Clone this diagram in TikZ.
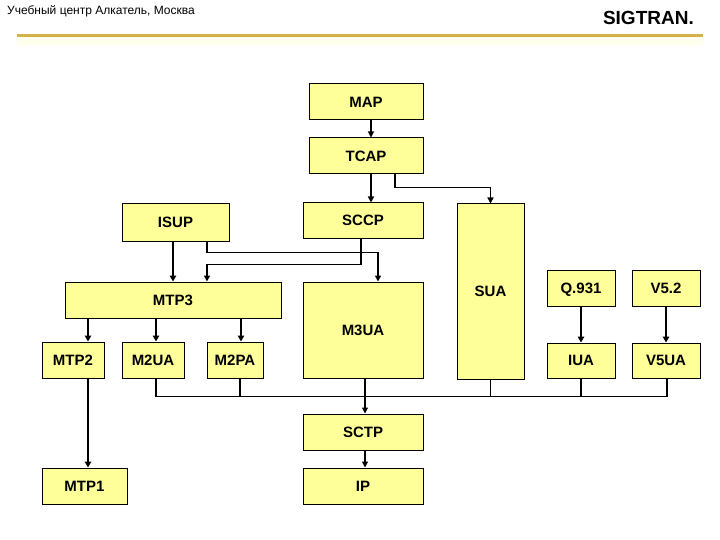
\documentclass[tikz,border=0pt]{standalone}
\usepackage{fontspec}
\setmainfont{Liberation Sans}
\usetikzlibrary{arrows.meta,positioning}
\definecolor{boxfill}{RGB}{255,255,153}
\definecolor{goldline}{RGB}{212,178,74}
\definecolor{paleband}{RGB}{255,255,238}
\tikzset{
  blk/.style={draw=black, line width=1pt, fill=boxfill, inner sep=0pt,
    text height=10.5pt, text depth=0pt,
    font=\fontsize{15}{17}\selectfont\bfseries},
  thin/.style={line width=1.1pt},
  thinarr/.style={line width=1.5pt, -{Triangle[length=6pt,width=6pt]}},
  thickarr/.style={line width=2.2pt, -{Triangle[length=6pt,width=6.5pt]}},
  smallarr/.style={line width=1.1pt, -{Triangle[length=6pt,width=6pt]}}
}
\begin{document}
\begin{tikzpicture}[x=1pt,y=-1pt]
\useasboundingbox (0,0) rectangle (720,540);
\fill[white] (0,0) rectangle (720,540);
% header
\node[anchor=base west, inner sep=0pt, font=\fontsize{12}{14}\selectfont] (hdr) at (7,15) {Учебный центр Алкатель, Москва};
\node[anchor=base east, inner sep=0pt, font=\fontsize{19}{21}\selectfont\bfseries] (ttl) at (694,25) {SIGTRAN.};
\fill[paleband] (17,37) rectangle (703,45);
\draw[goldline, line width=2.2pt] (17,35.5) -- (703,35.5);
% boxes
\node[blk, minimum width=114, minimum height=36] (MAP)  at (366,102) {MAP};
\node[blk, minimum width=114, minimum height=36] (TCAP) at (366,156) {TCAP};
\node[blk, minimum width=120, minimum height=35] (SCCP) at (363,220.5) {SCCP};
\node[blk, minimum width=107, minimum height=37] (ISUP) at (175.5,222.5) {ISUP};
\node[blk, minimum width=67, minimum height=175] (SUA) at (490.5,291.5) {SUA};
\node[blk, minimum width=216, minimum height=36] (MTP3) at (173,300) {MTP3};
\node[blk, minimum width=120, minimum height=96] (M3UA) at (363,330) {M3UA};
\node[blk, minimum width=62, minimum height=36] (MTP2) at (73,360) {MTP2};
\node[blk, minimum width=62, minimum height=36] (M2UA) at (153,360) {M2UA};
\node[blk, minimum width=56, minimum height=36] (M2PA) at (235,360) {M2PA};
\node[blk, minimum width=68, minimum height=36] (Q931) at (581,288) {Q.931};
\node[blk, minimum width=68, minimum height=36] (V52)  at (666,288) {V5.2};
\node[blk, minimum width=68, minimum height=35] (IUA)  at (581,360.5) {IUA};
\node[blk, minimum width=68, minimum height=35] (V5UA) at (666,360.5) {V5UA};
\node[blk, minimum width=120, minimum height=36] (SCTP) at (363,432) {SCTP};
\node[blk, minimum width=120, minimum height=36] (IP)   at (363,486) {IP};
\node[blk, minimum width=85, minimum height=36] (MTP1) at (84.5,486) {MTP1};
% connectors
\draw[smallarr] ([xshift=5]MAP.south) -- ([xshift=5]TCAP.north);
\draw[thinarr] ([xshift=5]TCAP.south) -- ([xshift=5]TCAP.south |- SCCP.north);
\draw[thinarr] ([xshift=29]TCAP.south) -- ++(0,13) -| (SUA.north);
\draw[thickarr] (ISUP.south -| MTP3.north) -- (MTP3.north);
\draw[thinarr] ([xshift=31.5]ISUP.south) -- ++(0,11) -| ([xshift=15]M3UA.north);
\draw[thinarr] ([xshift=-2]SCCP.south) -- ++(0,26) -| ([xshift=34]MTP3.north);
\draw[thickarr] ([xshift=15]MTP2.north |- MTP3.south) -- ([xshift=15]MTP2.north);
\draw[thickarr] ([xshift=3]M2UA.north |- MTP3.south) -- ([xshift=3]M2UA.north);
\draw[thickarr] ([xshift=6]M2PA.north |- MTP3.south) -- ([xshift=6]M2PA.north);
\draw[thickarr] ([xshift=15]MTP2.south) -- ([xshift=15]MTP2.south |- MTP1.north);
\draw[thickarr] (Q931.south) -- (IUA.north);
\draw[thickarr] (V52.south) -- (V5UA.north);
% bus to SCTP
\draw[thin] ([xshift=3]M2UA.south) -- ++(0,18) -| ([xshift=1]V5UA.south);
\draw[thin] ([xshift=5]M2PA.south) -- ++(0,18);
\draw[thin] (SUA.south) -- ++(0,17);
\draw[thin] (IUA.south) -- ++(0,18);
\draw[smallarr] ([xshift=2]M3UA.south) -- ([xshift=2]SCTP.north);
\draw[smallarr] ([xshift=2]SCTP.south) -- ([xshift=2]IP.north);
\end{tikzpicture}
\end{document}
